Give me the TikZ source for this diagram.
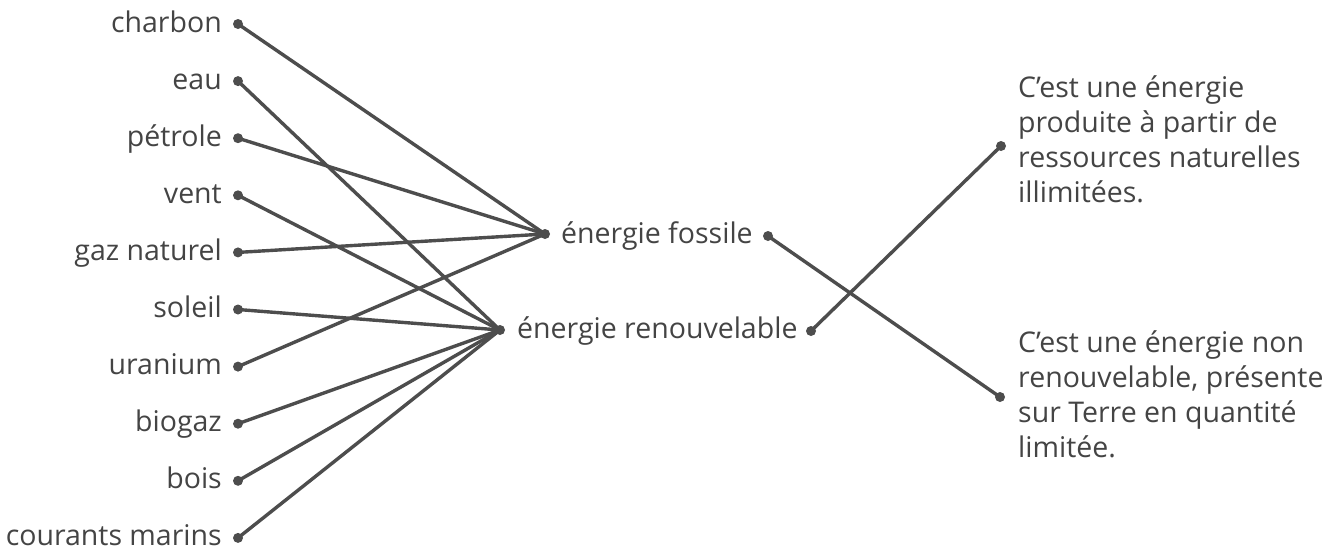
\documentclass[tikz,border=0pt]{standalone}
\usepackage{fontspec}
\setmainfont{Open Sans}
\definecolor{ink}{HTML}{444444}
\definecolor{wire}{HTML}{4D4D4D}
\begin{document}
\begin{tikzpicture}[x=1pt,y=-1pt,
  lbl/.style={font=\fontsize{28.5}{35}\selectfont, text=ink, inner sep=0pt},
  dot/.style={circle, fill=wire, inner sep=0pt, minimum size=10pt},
  wirestyle/.style={draw=wire, line width=3.4pt, line cap=round}]
\useasboundingbox (0,0) rectangle (1332,552);
% left items
\foreach \n/\t [count=\i from 0] in {a/charbon,b/eau,c/p\'etrole,d/vent,e/gaz naturel,f/soleil,g/uranium,h/biogaz,k/bois,m/courants marins}{
  \pgfmathsetmacro{\yy}{24+57.1*\i}
  \node[lbl, anchor=base east] (t\n) at (222,\yy+8) {\t};
  \node[dot] (\n) at (238,\yy) {};
}
% middle
\node[dot] (fosL) at (545,234) {};
\node[lbl, anchor=base west] (fos) at (561,243) {énergie fossile};
\node[dot] (fosR) at (768,236) {};
\node[dot] (renL) at (500,330) {};
\node[lbl, anchor=base west] (ren) at (517,338) {énergie renouvelable};
\node[dot] (renR) at (811,331) {};
% right
\node[dot] (defA) at (1001,146) {};
\node[lbl, anchor=base west, align=left] (txtA) at (1018,202) {C’est une énergie\\produite à partir de\\ressources naturelles\\illimitées.};
\node[dot] (defB) at (1000,397) {};
\node[lbl, anchor=base west, align=left] (txtB) at (1018,457) {C’est une énergie non\\renouvelable, présente\\sur Terre en quantité\\limitée.};
% connectors
\foreach \s in {a,c,e,g} \draw[wirestyle] (\s.center) -- (fosL.center);
\foreach \s in {b,d,f,h,k,m} \draw[wirestyle] (\s.center) -- (renL.center);
\draw[wirestyle] (fosR.center) -- (defB.center);
\draw[wirestyle] (renR.center) -- (defA.center);
\end{tikzpicture}
\end{document}
